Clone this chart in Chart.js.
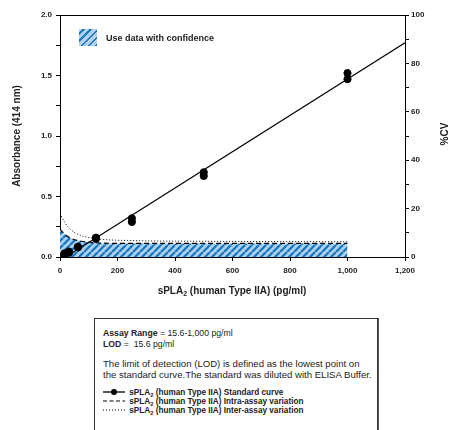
<!DOCTYPE html>
<html>
<head>
<meta charset="utf-8">
<script src="https://cdn.jsdelivr.net/npm/chart.js@4.4.1/dist/chart.umd.min.js"></script>
<style>
  html, body { margin:0; padding:0; background:#fff; }
  body { width:449px; height:430px; position:relative; overflow:hidden; font-family:'Liberation Sans', Arial, Helvetica, sans-serif; color:#222; }
  #wrap { position:absolute; left:0; top:0; width:449px; height:310px; }
  .abs { position:absolute; white-space:nowrap; }
  sub { font-size:70%; vertical-align:-2px; line-height:0; }
  #xtitle { left:0; width:464px; text-align:center; top:285px; font-weight:bold; font-size:10px; }
  #ytitle2 { left:425px; top:128px; width:40px; text-align:center; font-weight:bold; font-size:10px; line-height:12px; transform:rotate(-90deg); transform-origin:20px 6px; }
  #lgSwatch { left:79px; top:29px; width:18px; height:17px;
    background: repeating-linear-gradient(-45deg, #1e78be 0px, #1e78be 2px, #b0d0ee 2px, #b0d0ee 5px); }
  #lgText { left:106px; top:33px; font-weight:bold; font-size:9px; }
  #box { left:94px; top:318px; width:282px; height:130px; border:1px solid #333; box-shadow:1px 0 0 #555; }
  .t { left:8px; }
  .b { font-weight:bold; }
</style>
</head>
<body>
<div id="wrap"><canvas id="c" width="449" height="310"></canvas></div>
<div id="xtitle" class="abs">sPLA<sub>2</sub> (human Type IIA) (pg/ml)</div>
<div id="ytitle2" class="abs">%CV</div>
<div id="lgSwatch" class="abs"></div>
<div id="lgText" class="abs">Use data with confidence</div>
<div id="box" class="abs">
  <div class="abs t" style="top:9px;font-size:8.7px"><span class="b">Assay Range</span> = 15.6-1,000 pg/ml</div>
  <div class="abs t" style="top:20px;font-size:8.7px"><span class="b">LOD</span> =&nbsp; 15.6 pg/ml</div>
  <div class="abs t" style="top:39px;font-size:9.6px">The limit of detection (LOD) is defined as the lowest point on</div>
  <div class="abs t" style="top:50px;font-size:9.6px">the standard curve.The standard was diluted with ELISA Buffer.</div>
  <div class="abs t b" style="top:69px;font-size:8.2px"><svg width="24" height="8" style="vertical-align:-1px"><line x1="0" y1="4" x2="22" y2="4" stroke="#000" stroke-width="1.3"/><circle cx="11" cy="4" r="3" fill="#000"/></svg> sPLA<sub>2</sub> (human Type IIA) Standard curve</div>
  <div class="abs t b" style="top:78px;font-size:8.2px"><svg width="24" height="8" style="vertical-align:-1px"><line x1="0" y1="4" x2="22" y2="4" stroke="#000" stroke-width="1.2" stroke-dasharray="4 2.5"/></svg> sPLA<sub>2</sub> (human Type IIA) Intra-assay variation</div>
  <div class="abs t b" style="top:87px;font-size:8.2px"><svg width="24" height="8" style="vertical-align:-1px"><line x1="0" y1="4" x2="22" y2="4" stroke="#000" stroke-width="1" stroke-dasharray="1 2"/></svg> sPLA<sub>2</sub> (human Type IIA) Inter-assay variation</div>
</div>
<script>
// ---- data ----
const concentrations = [0, 15.6, 31.25, 62.5, 125, 250, 500, 1000];
const absorbanceRep1 = [0.00, 0.03, 0.045, 0.085, 0.15, 0.32, 0.70, 1.52];
const absorbanceRep2 = [0.00, 0.02, 0.035, 0.08, 0.16, 0.29, 0.67, 1.47];
const fitLineX = [20, 1200];
const fitLineY = [0.0, 1.77];
const cvConc = [0, 15.6, 31.25, 62.5, 125, 250, 500, 1000];
const intraAssayCV = [11.5, 9.5, 8.1, 6.8, 5.9, 5.6, 5.6, 5.6];
const interAssayCV = [18, 14.5, 12, 9.4, 7.6, 6.8, 6.5, 6.3];
const xTicks = [0, 200, 400, 600, 800, 1000, 1200];

const pts = (xs, ys) => xs.map((x, i) => ({x, y: ys[i]}));

function hatch() {
  const s = 7, c = document.createElement('canvas');
  c.width = s; c.height = s;
  const g = c.getContext('2d');
  g.fillStyle = '#acd0f0'; g.fillRect(0, 0, s, s);
  g.strokeStyle = '#1874bd'; g.lineWidth = 2.2;
  g.beginPath();
  for (const o of [-s, 0, s]) { g.moveTo(o, s); g.lineTo(o + s, 0); }
  g.stroke();
  return g.createPattern(c, 'repeat');
}

Chart.defaults.font.family = "'Liberation Sans', Arial, Helvetica, sans-serif";
Chart.defaults.color = '#222';

const tickFont = {size: 8, weight: 'bold'};
const axisCommon = (extra) => Object.assign({
  grid: {drawOnChartArea: false, drawTicks: true, tickLength: 4, color: '#000', lineWidth: 1},
  border: {display: true, color: '#000', width: 1}
}, extra);

new Chart(document.getElementById('c'), {
  type: 'line',
  data: {
    datasets: [
      {label: 'std1', data: pts(concentrations, absorbanceRep1), yAxisID: 'y', showLine: false,
       pointRadius: 3.6, pointBackgroundColor: '#000', pointBorderColor: '#000', order: 0},
      {label: 'std2', data: pts(concentrations, absorbanceRep2), yAxisID: 'y', showLine: false,
       pointRadius: 3.6, pointBackgroundColor: '#000', pointBorderColor: '#000', order: 0},
      {label: 'fit', data: pts(fitLineX, fitLineY), yAxisID: 'y', borderColor: '#000', borderWidth: 1.2,
       pointRadius: 0, fill: false, order: 1},
      {label: 'inter', data: pts(cvConc, interAssayCV), yAxisID: 'y2', borderColor: '#000', borderWidth: 1,
       borderDash: [1, 2], pointRadius: 0, fill: false, cubicInterpolationMode: 'monotone', order: 2},
      {label: 'intra', data: pts(cvConc, intraAssayCV), yAxisID: 'y2', borderColor: '#000', borderWidth: 1.2,
       borderDash: [5, 3], pointRadius: 0, fill: 'origin', backgroundColor: hatch(),
       cubicInterpolationMode: 'monotone', order: 3}
    ]
  },
  options: {
    responsive: false, animation: false, devicePixelRatio: 1,
    layout: {padding: {top: 15, left: 0, right: 0, bottom: 0}},
    plugins: {legend: {display: false}, tooltip: {enabled: false}},
    scales: {
      x: axisCommon({type: 'linear', min: 0, max: 1200,
        afterBuildTicks: s => { s.ticks = xTicks.map(v => ({value: v})); },
        ticks: {font: tickFont, padding: 5, autoSkip: false, maxRotation: 0,
          callback: v => v.toLocaleString('en-US')},
        afterFit: s => { s.height = 53; }}),
      xTop: {type: 'linear', position: 'top', min: 0, max: 1200,
        ticks: {display: false}, grid: {display: false, drawTicks: false},
        border: {display: true, color: '#000', width: 1},
        afterFit: s => { s.height = 0; }},
      y: axisCommon({type: 'linear', position: 'left', min: 0, max: 2,
        ticks: {font: tickFont, stepSize: 0.25, padding: 4, autoSkip: false,
          callback: v => (Math.abs(v * 2 - Math.round(v * 2)) < 1e-6 ? v.toFixed(1) : '')},
        title: {display: true, text: 'Absorbance (414 nm)', font: {size: 10, weight: 'bold'}, padding: {top: 11, bottom: 0}},
        afterFit: s => { s.width = 60; }}),
      y2: axisCommon({type: 'linear', position: 'right', min: 0, max: 100,
        ticks: {font: tickFont, stepSize: 10, padding: 2, autoSkip: false,
          callback: v => (v % 20 === 0 ? String(v) : '')},
        afterFit: s => { s.width = 44; }})
    }
  }
});
</script>
</body>
</html>
